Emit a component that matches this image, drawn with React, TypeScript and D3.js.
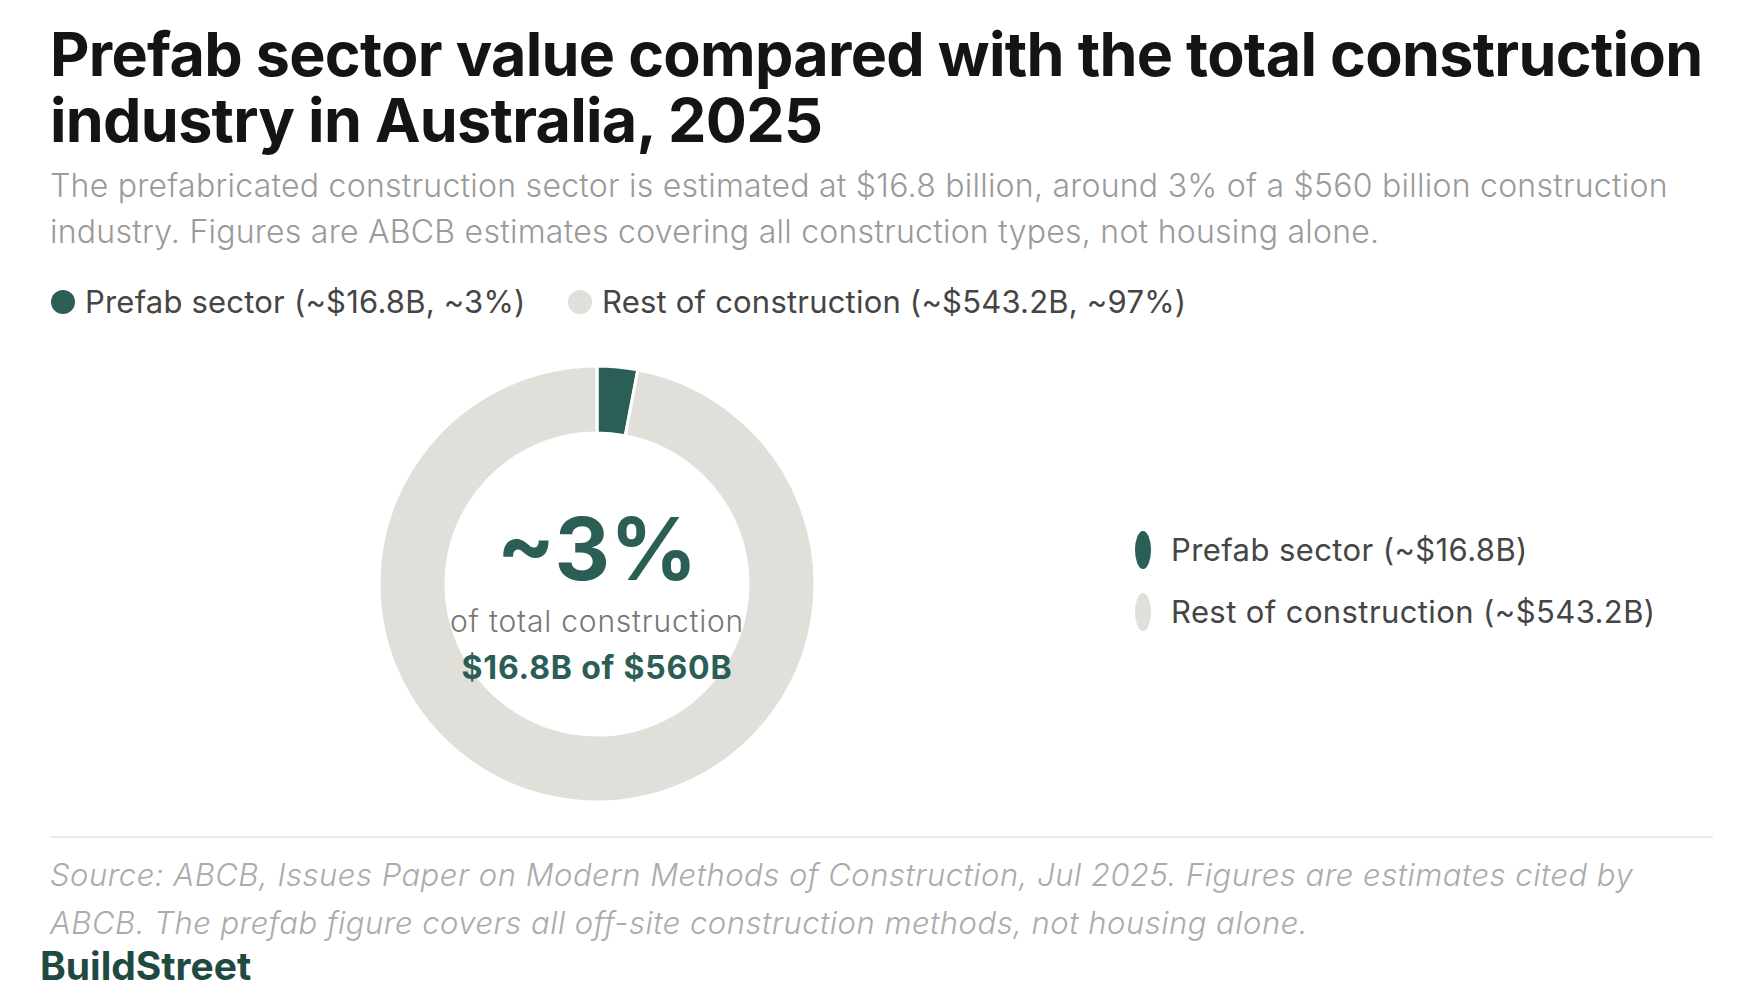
import * as d3 from 'd3';

const segments = ['Prefab sector', 'Rest of construction'];
const values = [16.8, 543.2];
const shares = ['~3%', '~97%'];
const colors = ['#2b5e55', '#e0dfda'];

const titleLines = [
  'Prefab sector value compared with the total construction',
  'industry in Australia, 2025',
];
const subtitleLines = [
  'The prefabricated construction sector is estimated at $16.8 billion, around 3% of a $560 billion construction',
  'industry. Figures are ABCB estimates covering all construction types, not housing alone.',
];
const sourceLines = [
  'Source: ABCB, Issues Paper on Modern Methods of Construction, Jul 2025. Figures are estimates cited by',
  'ABCB. The prefab figure covers all off-site construction methods, not housing alone.',
];

const W = 1760;
const H = 1000;
const font = 'Inter, "Noto Sans", sans-serif';

export default function App() {
  const total = d3.sum(values);
  const pie = d3.pie<number>().sort(null).value(d => d);
  const arcs = pie(values);
  const cx = 597;
  const cy = 584;
  const outerR = 218;
  const innerR = 151;
  const arc = d3.arc<d3.PieArcDatum<number>>().innerRadius(innerR).outerRadius(outerR);
  const fmt = (v: number) => `$${d3.format('.1f')(v)}B`;

  return (
    <svg width={W} height={H} style={{ position: 'absolute', left: 0, top: 0, background: '#fff' }}>
      <rect width={W} height={H} fill="#fff" />
      {titleLines.map((t, i) => (
        <text key={t} x={50} y={76 + i * 66} fontFamily={font} fontWeight={700} fontSize={61}
          letterSpacing={-0.7} fill="#141414">{t}</text>
      ))}
      {subtitleLines.map((t, i) => (
        <text key={t} x={50} y={197 + i * 46} fontFamily={font} fontWeight={300} fontSize={32}
          letterSpacing={0.25} fill="#9a9a9a">{t}</text>
      ))}

      {/* top legend */}
      {segments.map((s, i) => {
        const x0 = i === 0 ? 63 : 580;
        return (
          <g key={s}>
            <circle cx={x0} cy={302} r={12} fill={colors[i]} />
            <text x={x0 + 22} y={313} fontFamily={font} fontWeight={400} fontSize={31}
              letterSpacing={0.2} fill="#454545">
              {`${s} (~${fmt(values[i])}, ${shares[i]})`}
            </text>
          </g>
        );
      })}

      {/* donut */}
      <g transform={`translate(${cx},${cy})`}>
        {arcs.map((a, i) => (
          <path key={i} d={arc(a) || undefined} fill={colors[i]} stroke="#fff" strokeWidth={3} />
        ))}
        <text y={-4} textAnchor="middle" fontFamily={font} fontWeight={700} fontSize={86}
          fill={colors[0]}>{shares[0]}</text>
        <text y={48} textAnchor="middle" fontFamily={font} fontWeight={300} fontSize={30}
          letterSpacing={0.8} fill="#777">of total construction</text>
        <text y={95} textAnchor="middle" fontFamily={font} fontWeight={700} fontSize={32}
          letterSpacing={0.8} fill={colors[0]}>{`${fmt(values[0])} of $${d3.format('d')(total)}B`}</text>
      </g>

      {/* side legend */}
      {segments.map((s, i) => (
        <g key={s} transform={`translate(1143,${550 + i * 62})`}>
          <ellipse rx={8} ry={19} fill={colors[i]} />
          <text x={28} y={11} fontFamily={font} fontWeight={400} fontSize={31}
            letterSpacing={0.4} fill="#454545">{`${s} (~${fmt(values[i])})`}</text>
        </g>
      ))}

      <line x1={50} x2={1713} y1={837} y2={837} stroke="#e6e6e6" strokeWidth={1.5} />
      {sourceLines.map((t, i) => (
        <text key={t} x={50} y={886 + i * 48} fontFamily={font} fontStyle="italic" fontWeight={300}
          fontSize={31} letterSpacing={0.5} fill="#ababab">{t}</text>
      ))}
      <text x={40} y={980} fontFamily={font} fontWeight={700} fontSize={39}
        fill="#1e4a42">BuildStreet</text>
    </svg>
  );
}
